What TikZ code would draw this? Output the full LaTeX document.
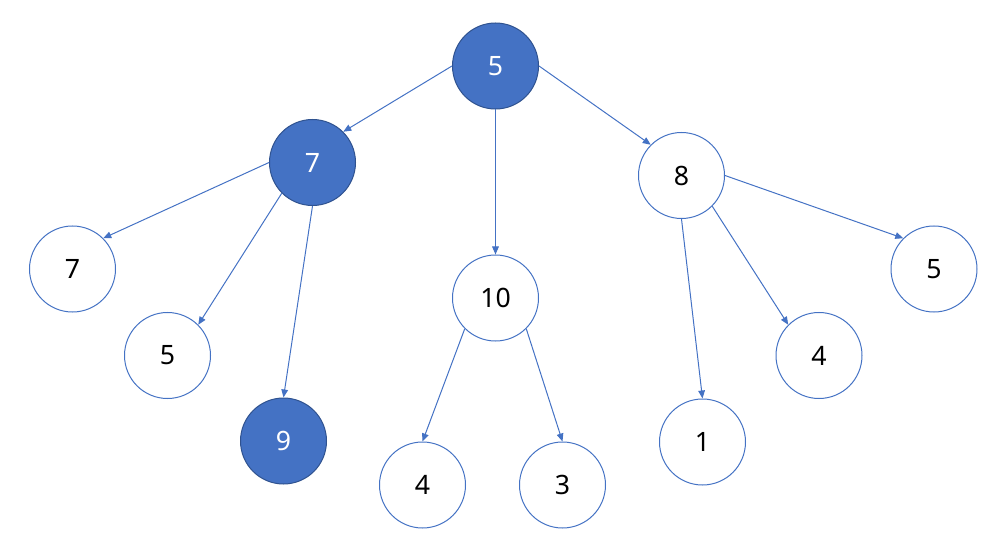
\documentclass[tikz,border=0pt]{standalone}
\usepackage{fontspec}
\setmainfont{Noto Sans}
\usetikzlibrary{arrows.meta}
\definecolor{nodeblue}{HTML}{4472C4}
\definecolor{rimblue}{HTML}{2F528F}

\begin{document}
\begin{tikzpicture}[x=0.75pt, y=-0.75pt,
  every node/.style={font=\fontsize{20}{24}\selectfont},
  plain/.style={circle, draw=nodeblue, fill=white, minimum size=64.5pt, inner sep=0pt, line width=0.75pt},
  picked/.style={plain, draw=rimblue, fill=nodeblue, text=white},
  link/.style={draw=nodeblue, line width=0.75pt, -{Triangle[length=6pt,width=5pt]}}]
  \useasboundingbox (0,0) rectangle (1004,556);
  % top levels
  \node[picked] (root) at (495.5,66) {5};
  \node[picked] (a) at (312.5,162.5) {7};
  \node[plain] (b) at (495.5,298) {10};
  \node[plain] (c) at (681.5,175.5) {8};
  % leaves under 7
  \node[plain] (a1) at (72.5,269) {7};
  \node[plain] (a2) at (167.5,355.5) {5};
  \node[picked] (a3) at (283.5,441) {9};
  % leaves under 10
  \node[plain] (b1) at (422.5,485) {4};
  \node[plain] (b2) at (562.5,485) {3};
  % leaves under 8
  \node[plain] (c1) at (702.5,442) {1};
  \node[plain] (c2) at (819,355.5) {4};
  \node[plain] (c3) at (934,269) {5};
  % edges
  \draw[link] (root.west) -- (a.north east);
  \draw[link] (root.south) -- (b.north);
  \draw[link] (root.east) -- (c.north west);
  \draw[link] (a.west) -- (a1.north east);
  \draw[link] (a.south west) -- (a2.north east);
  \draw[link] (a.south) -- (a3.north);
  \draw[link] (b.south west) -- (b1.north);
  \draw[link] (b.south east) -- (b2.north);
  \draw[link] (c.south) -- (c1.north);
  \draw[link] (c.south east) -- (c2.north west);
  \draw[link] (c.east) -- (c3.north west);
\end{tikzpicture}
\end{document}
